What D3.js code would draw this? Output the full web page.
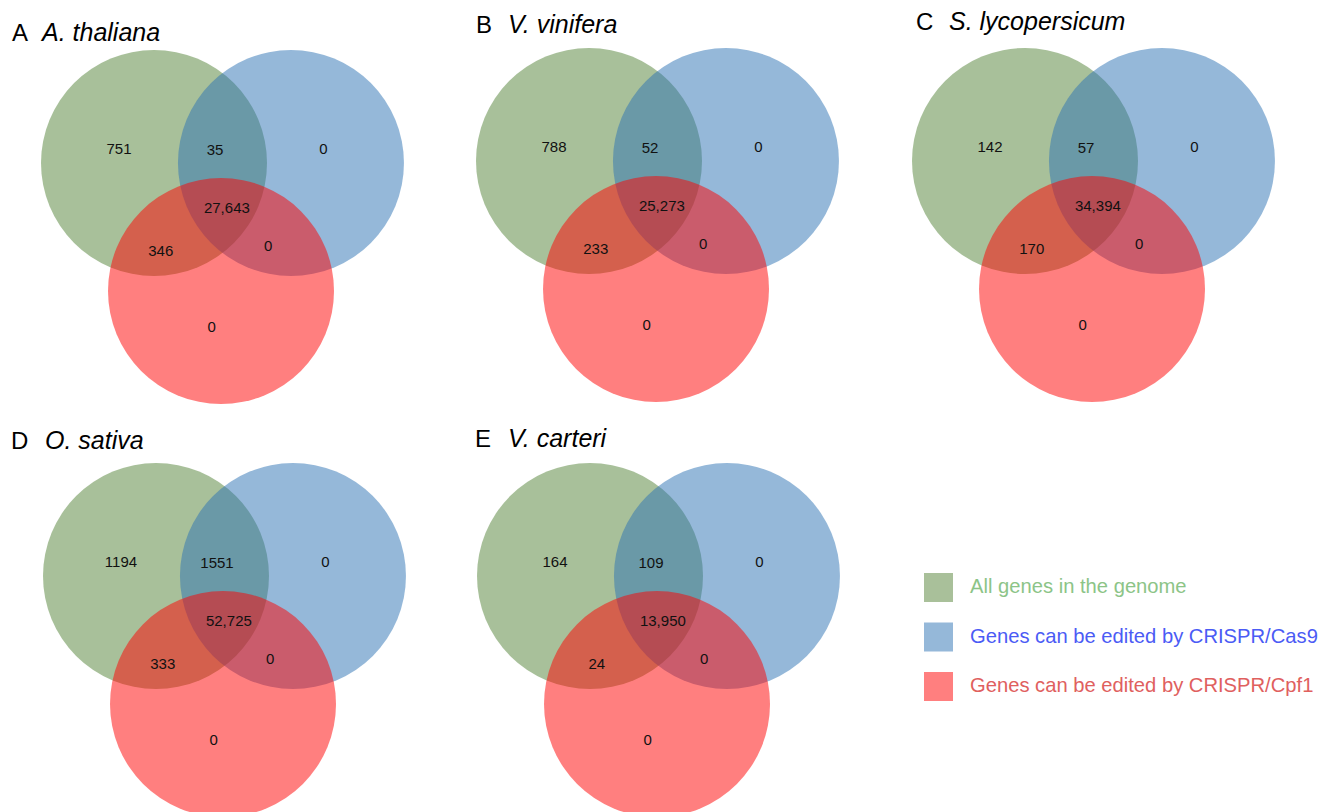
<!DOCTYPE html>
<meta charset="utf-8">
<script src="https://d3js.org/d3.v7.min.js"></script>
<style>
  body { margin: 0; background: #fff; }
  text { font-family: "Liberation Sans", Arial, sans-serif; }
</style>
<div id="my_dataviz"></div>

<script>
    // panel letters and species
    var letters = ["A", "B", "C", "D", "E"];
    var species = ["A. thaliana", "V. vinifera", "S. lycopersicum", "O. sativa", "V. carteri"];

    // the three sets
    var setNames = ["All genes in the genome", "Genes can be edited by CRISPR/Cas9", "Genes can be edited by CRISPR/Cpf1"];

    // region counts, one value per species
    var onlyGenome  = [751, 788, 142, 1194, 164];
    var genomeCas9  = [35, 52, 57, 1551, 109];
    var onlyCas9    = [0, 0, 0, 0, 0];
    var allThree    = [27643, 25273, 34394, 52725, 13950];
    var genomeCpf1  = [346, 233, 170, 333, 24];
    var cas9Cpf1    = [0, 0, 0, 0, 0];
    var onlyCpf1    = [0, 0, 0, 0, 0];

    var width = 1331, height = 812;

    var svg = d3.select("#my_dataviz")
      .append("svg")
        .attr("width", width)
        .attr("height", height);

    // where each panel sits (centre of the green circle) and its title
    var panelPos = [
      {x: 154, y: 163, tx: 12,  ty: 41, sx: 42},
      {x: 589, y: 161, tx: 476, ty: 33, sx: 508},
      {x: 1025, y: 161, tx: 916, ty: 30, sx: 949},
      {x: 156, y: 576, tx: 11,  ty: 449, sx: 45},
      {x: 590, y: 576, tx: 475, ty: 447, sx: 508}
    ];

    // circle layout in units of the radius
    var r = 113;
    var u = d3.scaleLinear().domain([0, 1]).range([0, r]);
    var circles = [
      {cx: 0, cy: 0, color: "#518135"},
      {cx: 1.212, cy: 0, color: "#2b71b3"},
      {cx: 0.593, cy: 1.133, color: "#ff0000"}
    ];

    // label spots for the seven regions (units of radius)
    var regionSpots = [
      {dx: -0.31, dy: -0.13},  // genome only
      {dx: 0.54, dy: -0.12},   // genome & Cas9
      {dx: 1.50, dy: -0.13},   // Cas9 only
      {dx: 0.645, dy: 0.40},   // all three
      {dx: 0.06, dy: 0.78},    // genome & Cpf1
      {dx: 1.01, dy: 0.735},   // Cas9 & Cpf1
      {dx: 0.51, dy: 1.45}     // Cpf1 only
    ];

    var fmt = d3.format(",");
    function label(n) { return n >= 10000 ? fmt(n) : String(n); }

    species.forEach(function(name, i) {
      var p = panelPos[i];
      var counts = [onlyGenome[i], genomeCas9[i], onlyCas9[i], allThree[i], genomeCpf1[i], cas9Cpf1[i], onlyCpf1[i]];

      svg.append("text")
        .attr("x", p.tx).attr("y", p.ty)
        .style("font-size", "24px")
        .text(letters[i]);
      svg.append("text")
        .attr("x", p.sx).attr("y", p.ty)
        .style("font-size", "25px")
        .style("font-style", "italic")
        .text(name);

      var g = svg.append("g")
        .attr("transform", "translate(" + p.x + "," + p.y + ")");

      g.selectAll("circle")
        .data(circles)
        .enter().append("circle")
          .attr("cx", d => u(d.cx))
          .attr("cy", d => u(d.cy))
          .attr("r", r)
          .attr("fill", d => d.color)
          .attr("fill-opacity", 0.5);

      g.selectAll(".count")
        .data(counts)
        .enter().append("text")
          .attr("class", "count")
          .attr("x", (d, j) => u(regionSpots[j].dx))
          .attr("y", (d, j) => u(regionSpots[j].dy))
          .attr("dy", "0.35em")
          .attr("text-anchor", "middle")
          .style("font-size", "15px")
          .style("fill", "#111")
          .text(d => label(d));
    });

    // legend
    var legendColors = ["#a9c09a", "#95b8d9", "#ff7f7f"];
    var legendText = ["#8cc487", "#4b5bf5", "#e0605e"];
    var legend = svg.append("g")
        .attr("transform", "translate(924,573)");

    legend.selectAll("rect")
      .data(setNames)
      .enter().append("rect")
        .attr("x", 0)
        .attr("y", (d, i) => i * 49.5)
        .attr("width", 29)
        .attr("height", 29)
        .attr("fill", (d, i) => legendColors[i]);

    legend.selectAll(".lab")
      .data(setNames)
      .enter().append("text")
        .attr("class", "lab")
        .attr("x", 46)
        .attr("y", (d, i) => i * 49.5 + 13)
        .attr("dy", "0.35em")
        .style("font-size", "20.2px")
        .style("fill", (d, i) => legendText[i])
        .text(d => d);
</script>
